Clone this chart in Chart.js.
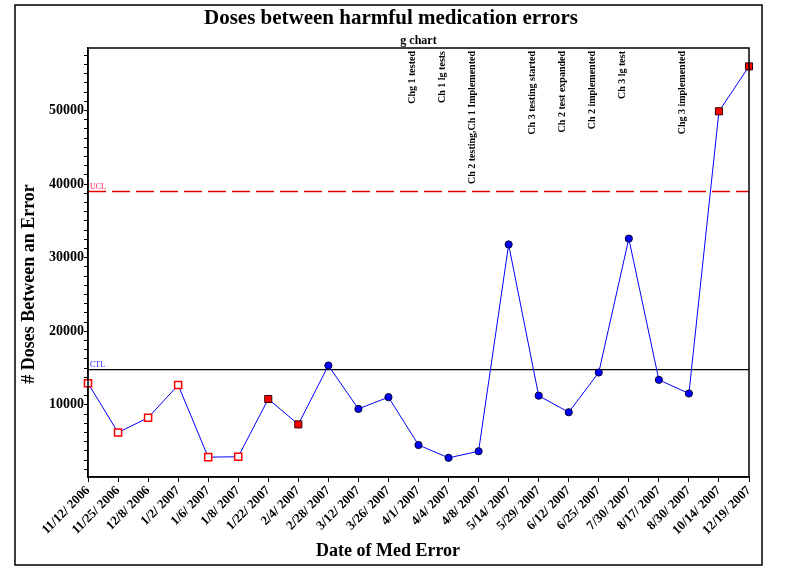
<!DOCTYPE html>
<html>
<head>
<meta charset="utf-8">
<script src="https://cdn.jsdelivr.net/npm/chart.js@4.4.7/dist/chart.umd.min.js"></script>
<style>
  html, body { margin: 0; padding: 0; background: #fff; }
  canvas { display: block; }
</style>
</head>
<body>
<canvas id="gchart" width="786" height="572"></canvas>
<script>
// g chart data: doses between harmful medication errors
const errorDates = [
  "11/12/ 2006", "11/25/ 2006", "12/8/ 2006", "1/2/ 2007", "1/6/ 2007", "1/8/ 2007",
  "1/22/ 2007", "2/4/ 2007", "2/28/ 2007", "3/12/ 2007", "3/26/ 2007", "4/1/ 2007",
  "4/4/ 2007", "4/8/ 2007", "5/14/ 2007", "5/29/ 2007", "6/12/ 2007", "6/25/ 2007",
  "7/30/ 2007", "8/17/ 2007", "8/30/ 2007", "10/14/ 2007", "12/19/ 2007"
]
const dosesBetween = [
  12950, 6250, 8250, 12700, 2900, 2950,
  10800, 7350, 15350, 9450, 11050, 4550,
  2800, 3700, 31800, 11250, 9000, 14400,
  32600, 13400, 11550, 49900, 56000
]
// marker kind per point: h = hollow red square, r = filled red square, b = blue dot
const markerKinds = [
  "h", "h", "h", "h", "h", "h",
  "r", "r", "b", "b", "b", "b",
  "b", "b", "b", "b", "b", "b",
  "b", "b", "b", "r", "r"
]
const ucl = 39000
const ctl = 14800
const yTickLabels = [10000, 20000, 30000, 40000, 50000]

const changeNotes = [
  { at: 11, text: "Chg 1 tested" },
  { at: 12, text: "Ch 1 lg tests" },
  { at: 13, text: "Ch 2 testing,Ch 1 Implemented" },
  { at: 15, text: "Ch 3 testing started" },
  { at: 16, text: "Ch 2 test expanded" },
  { at: 17, text: "Ch 2 implemented" },
  { at: 18, text: "Ch 3 lg test" },
  { at: 20, text: "Chg 3 implemented" }
]

const SERIF = '"Liberation Serif", "Times New Roman", serif'

const extras = {
  id: "gchartExtras",
  beforeDatasetsDraw(chart) {
    const { ctx, chartArea: ca, scales } = chart
    ctx.save()
    // UCL
    const yu = scales.y.getPixelForValue(ucl)
    ctx.strokeStyle = "#e00000"
    ctx.lineWidth = 1.5
    ctx.setLineDash([18, 6])
    ctx.beginPath()
    ctx.moveTo(ca.left, yu)
    ctx.lineTo(ca.right, yu)
    ctx.stroke()
    ctx.setLineDash([])
    ctx.font = "8px " + SERIF
    ctx.fillStyle = "#ff2050"
    ctx.textAlign = "left"
    ctx.textBaseline = "bottom"
    ctx.fillText("UCL", ca.left + 2, yu - 1)
    // CTL
    const yc = scales.y.getPixelForValue(ctl)
    ctx.strokeStyle = "#000"
    ctx.lineWidth = 1.2
    ctx.beginPath()
    ctx.moveTo(ca.left, yc)
    ctx.lineTo(ca.right, yc)
    ctx.stroke()
    ctx.fillStyle = "#2020ff"
    ctx.fillText("CTL", ca.left + 2, yc - 1)
    ctx.restore()
  },
  afterDraw(chart) {
    const { ctx, chartArea: ca, scales } = chart
    ctx.save()
    // plot frame
    ctx.strokeStyle = "#000"
    ctx.lineWidth = 1.5
    ctx.strokeRect(ca.left, ca.top, ca.right - ca.left, ca.bottom - ca.top)
    // outer frame
    ctx.strokeRect(15, 5, 747, 560)

    // change annotations, vertical
    ctx.fillStyle = "#000"
    ctx.font = "bold 10px " + SERIF
    ctx.textAlign = "right"
    ctx.textBaseline = "middle"
    changeNotes.forEach(n => {
      const x = scales.x.getPixelForValue(n.at) - 6
      ctx.save()
      ctx.translate(x, ca.top + 3)
      ctx.rotate(-Math.PI / 2)
      ctx.fillText(n.text, 0, 0)
      ctx.restore()
    })

    // titles
    ctx.textAlign = "center"
    ctx.textBaseline = "middle"
    ctx.font = "bold 21px " + SERIF
    ctx.fillText("Doses between harmful medication errors", 391, 19)
    ctx.font = "bold 12px " + SERIF
    ctx.fillText("g chart", (ca.left + ca.right) / 2, 41)
    ctx.font = "bold 18px " + SERIF
    ctx.fillText("Date of Med Error", 388, 551)
    ctx.save()
    ctx.translate(29, 284)
    ctx.rotate(-Math.PI / 2)
    ctx.fillText("# Doses Between an Error", 0, 0)
    ctx.restore()
    ctx.restore()
  }
}

new Chart(document.getElementById("gchart"), {
  type: "line",
  data: {
    labels: errorDates,
    datasets: [{
      data: dosesBetween,
      borderColor: "#0000ff",
      borderWidth: 1,
      tension: 0,
      clip: false,
      pointStyle: markerKinds.map(k => k === "b" ? "circle" : "rect"),
      pointRadius: markerKinds.map(k => k === "b" ? 3.6 : 5),
      pointBackgroundColor: markerKinds.map(k => k === "h" ? "#ffffff" : k === "r" ? "#ff0000" : "#0000ff"),
      pointBorderColor: markerKinds.map(k => k === "h" ? "#ff0000" : k === "r" ? "#300000" : "#000030"),
      pointBorderWidth: markerKinds.map(k => k === "h" ? 1.5 : 1)
    }]
  },
  options: {
    responsive: false,
    animation: false,
    layout: { padding: { top: 48, right: 37, left: 0, bottom: 0 } },
    plugins: {
      legend: { display: false },
      tooltip: { enabled: false }
    },
    scales: {
      x: {
        offset: false,
        grid: { drawOnChartArea: false, tickLength: 5, color: "#000", lineWidth: 1 },
        border: { color: "#000", width: 1.5 },
        ticks: {
          autoSkip: false,
          minRotation: 45,
          maxRotation: 45,
          padding: 1,
          color: "#000",
          font: { family: SERIF, size: 13, weight: "bold" }
        },
        afterFit: s => { s.height = 95 }
      },
      y: {
        min: 200,
        max: 58500,
        afterBuildTicks: s => {
          const t = []
          for (let v = 1250; v < 58500; v += 1250) t.push({ value: v })
          s.ticks = t
        },
        grid: { drawOnChartArea: false, tickLength: 4, color: "#000", lineWidth: 1 },
        border: { color: "#000", width: 1.5 },
        ticks: {
          autoSkip: false,
          padding: 0,
          color: "#000",
          font: { family: SERIF, size: 14, weight: "bold" },
          callback: v => yTickLabels.includes(v) ? String(v) : ""
        },
        afterFit: s => { s.width = 88 }
      }
    }
  },
  plugins: [extras]
})
</script>
</body>
</html>
